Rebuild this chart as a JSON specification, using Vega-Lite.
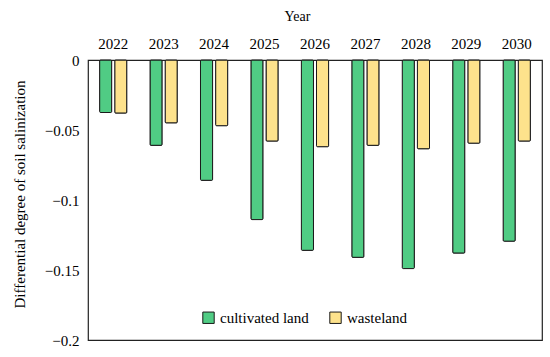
{
  "$schema": "https://vega.github.io/schema/vega-lite/v6.json",
  "width": 454,
  "height": 280,
  "autosize": "none",
  "padding": {"left": 88, "top": 60, "right": 8, "bottom": 17},
  "background": "white",
  "config": {
    "font": "Liberation Serif",
    "view": {"stroke": "#222", "strokeWidth": 1.2},
    "axis": {"labelFont": "Liberation Serif", "titleFont": "Liberation Serif", "labelColor": "#000", "titleColor": "#000", "titleFontWeight": "normal", "grid": false}
  },
  "data": {
    "values": [
      {"year": "2022", "type": "cultivated land", "value": -0.0375},
      {"year": "2022", "type": "wasteland", "value": -0.038},
      {"year": "2023", "type": "cultivated land", "value": -0.061},
      {"year": "2023", "type": "wasteland", "value": -0.045},
      {"year": "2024", "type": "cultivated land", "value": -0.086},
      {"year": "2024", "type": "wasteland", "value": -0.047},
      {"year": "2025", "type": "cultivated land", "value": -0.114},
      {"year": "2025", "type": "wasteland", "value": -0.058},
      {"year": "2026", "type": "cultivated land", "value": -0.136},
      {"year": "2026", "type": "wasteland", "value": -0.062},
      {"year": "2027", "type": "cultivated land", "value": -0.141},
      {"year": "2027", "type": "wasteland", "value": -0.061},
      {"year": "2028", "type": "cultivated land", "value": -0.149},
      {"year": "2028", "type": "wasteland", "value": -0.0635},
      {"year": "2029", "type": "cultivated land", "value": -0.138},
      {"year": "2029", "type": "wasteland", "value": -0.0595},
      {"year": "2030", "type": "cultivated land", "value": -0.1295},
      {"year": "2030", "type": "wasteland", "value": -0.058}
    ]
  },
  "mark": {"type": "bar", "stroke": "#1a1a1a", "strokeWidth": 1, "cornerRadius": 1},
  "encoding": {
    "x": {
      "field": "year", "type": "nominal",
      "scale": {"paddingInner": 0.46, "paddingOuter": 0.23},
      "axis": {
        "orient": "top", "title": "Year", "labelAngle": 0, "ticks": false, "domain": false,
        "labelFontSize": 15, "labelPadding": 9, "titleFontSize": 14, "titlePadding": 13,
        "titleX": 209
      }
    },
    "xOffset": {"field": "type", "type": "nominal", "scale": {"paddingInner": 0.2}},
    "y": {
      "field": "value", "type": "quantitative",
      "scale": {"domain": [-0.2, 0], "nice": false},
      "axis": {
        "title": "Differential degree of soil salinization", "values": [0, -0.05, -0.1, -0.15, -0.2],
        "format": ".2~f", "ticks": false, "domain": false, "labelFontSize": 15, "labelPadding": 9,
        "titleFontSize": 15, "titlePadding": 17, "titleY": 134
      }
    },
    "color": {
      "field": "type", "type": "nominal",
      "scale": {"domain": ["cultivated land", "wasteland"], "range": ["#50cc84", "#fde28c"]},
      "legend": {
        "title": null, "orient": "none", "direction": "horizontal", "legendX": 113, "legendY": 250,
        "symbolType": "square", "symbolSize": 130, "symbolStrokeColor": "#1a1a1a", "symbolStrokeWidth": 1,
        "labelFont": "Liberation Serif", "labelFontSize": 15, "labelColor": "#000", "columnPadding": 18
      }
    }
  }
}
